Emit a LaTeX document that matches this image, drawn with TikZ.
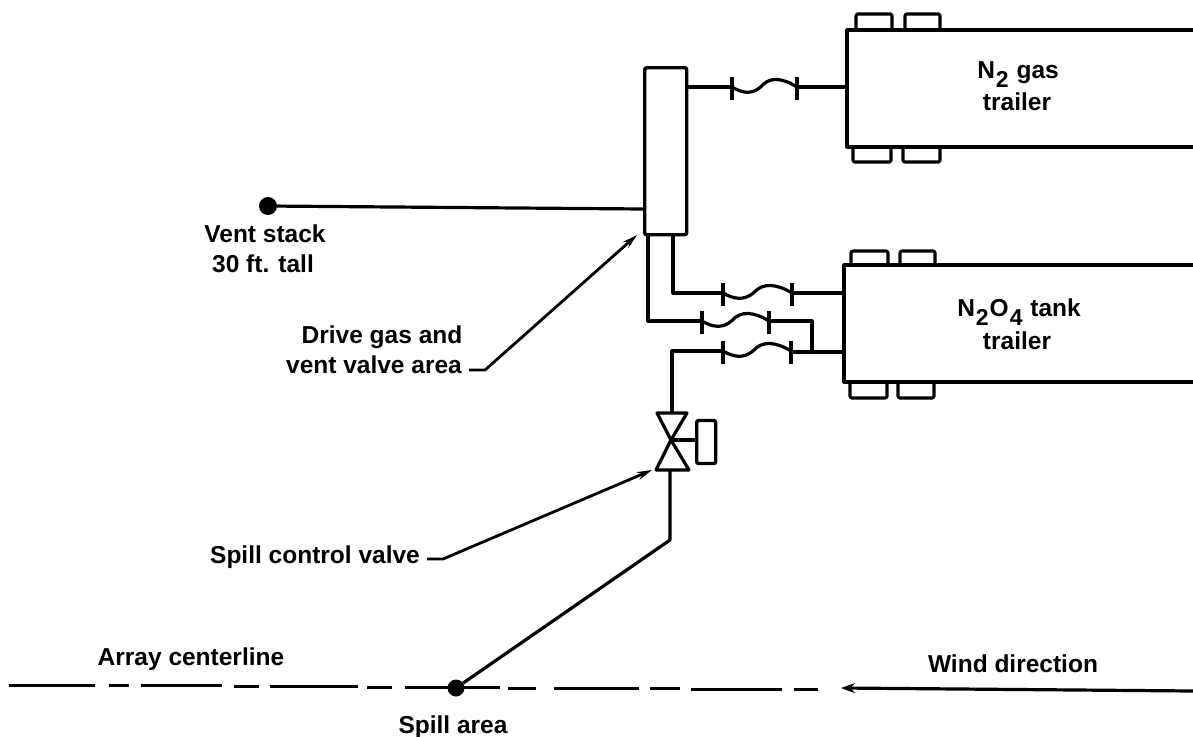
\documentclass[tikz,border=0pt]{standalone}
\usepackage{fontspec}
\setmainfont{Liberation Sans}
\usetikzlibrary{arrows.meta}
\newcommand{\lowsub}[1]{\raisebox{-9pt}{\kern1pt\fontsize{23}{26}\selectfont #1\kern1pt}}
\tikzset{
  x=1pt,y=-1pt,
  pipe/.style={line width=3.2pt,line join=round},
  lbl/.style={font=\fontsize{24.5}{28}\selectfont\bfseries,inner sep=0pt,anchor=base},
  unit/.style={draw,line width=3.4pt,inner sep=0pt,rounded corners=2pt},
  dot/.style={circle,fill=black,inner sep=0pt},
  leader/.style={line width=2.8pt,line join=round,-{Stealth[length=15pt,width=8pt]}},
  tick/.style={line width=3.2pt},
  dashline/.style={line width=3pt}
}
\newcommand{\flexhose}[3]{%
  \draw[tick] (#1,#3-10)--(#1,#3+13);
  \draw[tick] (#2,#3-10)--(#2,#3+13);
  \draw[pipe] (#1,#3) .. controls ({#1+(#2-#1)*0.15},#3+6) and ({#1+(#2-#1)*0.3},#3+8) .. ({#1+(#2-#1)*0.44},#3)
    .. controls ({#1+(#2-#1)*0.58},#3-11) and ({#1+(#2-#1)*0.78},#3-9) .. (#2,#3);
}
\begin{document}
\begin{tikzpicture}
\useasboundingbox (0,0) rectangle (1193,736);
% stack box
\node[unit,minimum width=42pt,minimum height=167pt,anchor=north west] (stack) at (643,66) {};
% trailers
\coordinate (t1a) at (1193,30); \coordinate (t1b) at (847,30);
\coordinate (t1c) at (847,147); \coordinate (t1d) at (1193,147);
\draw[pipe] (t1a)--(t1b)--(t1c)--(t1d);
\coordinate (t2a) at (1193,265); \coordinate (t2b) at (844,265);
\coordinate (t2c) at (844,382); \coordinate (t2d) at (1193,382);
\draw[pipe] (t2a)--(t2b)--(t2c)--(t2d);
% wheels
\draw[pipe,rounded corners=2pt] (856,30)--(856,14)--(892,14)--(892,30);
\draw[pipe,rounded corners=2pt] (905,30)--(905,14)--(940,14)--(940,30);
\draw[pipe,rounded corners=2pt] (853,147)--(853,162)--(891,162)--(891,147);
\draw[pipe,rounded corners=2pt] (903,147)--(903,162)--(940,162)--(940,147);
\draw[pipe,rounded corners=2pt] (851,265)--(851,251)--(888,251)--(888,265);
\draw[pipe,rounded corners=2pt] (900,265)--(900,251)--(935,251)--(935,265);
\draw[pipe,rounded corners=2pt] (850,382)--(850,398)--(887,398)--(887,382);
\draw[pipe,rounded corners=2pt] (898,382)--(898,398)--(934,398)--(934,382);
% N2 line
\draw[pipe] (stack.east|-0,87)--(732,87);
\flexhose{732}{797}{87}
\draw[pipe] (797,87)--(847,87);
% pipes
\draw[pipe] (673,233)--(673,293)--(723,293);
\flexhose{723}{792}{293}
\draw[pipe] (792,293)--(844,293);
\draw[pipe] (648,233)--(648,321)--(702,321);
\flexhose{702}{769}{321}
\draw[pipe] (769,321)--(812,321)--(812,352);
\draw[pipe] (672,413)--(672,351)--(723,351);
\flexhose{723}{791}{351}
\draw[pipe] (791,352)--(844,352);
% valve
\coordinate (vc) at (671,440);
\draw[pipe] (657,413)--(687,413)--(vc)--cycle;
\draw[pipe] (656,470)--(689,470)--(vc)--cycle;
\node[unit,minimum width=19pt,minimum height=43pt,anchor=west] (act) at (695,442) {};
\draw[tick] (vc)--(act.west|-vc);
% vent
\node[dot,minimum size=18pt] (vent) at (268,206) {};
\draw[pipe] (vent)--(stack.west|-0,209);
% spill
\node[dot,minimum size=17pt] (spill) at (456,688) {};
\coordinate (sb) at (670,540);
\draw[pipe] (670,470)--(sb)--(spill);
% centerline
\foreach \a/\b/\ya in {9/95/685,109/129/685.3,141/222/685.6,234/259/686,270/358/686.5,367/392/687,405/500/687.5,508/536/688,554/639/688.3,650/680/688.6,691/782/689,794/818/689.3}
  \draw[dashline] (\a,\ya)--(\b,\ya);
\coordinate (w1) at (1193,691); \coordinate (w2) at (841,688);
\draw[line width=3.2pt,-{Stealth[length=14pt,width=10pt]}] (w1)--(w2);
% leaders
\coordinate (l1a) at (469,370); \coordinate (l1b) at (485,370); \coordinate (l1c) at (637,235);
\draw[leader] (l1a)--(l1b)--(l1c);
\coordinate (l2a) at (427,559); \coordinate (l2b) at (443,559); \coordinate (l2c) at (652,470);
\draw[leader] (l2a)--(l2b)--(l2c);
% labels
\node[lbl] (t1) at (265,242) {Vent stack};
\node[lbl] (t2) at (263,272) {30 ft. tall};
\node[lbl] (t3) at (382,343) {Drive gas and};
\node[lbl] (t4) at (374,373) {vent valve area};
\node[lbl] (t5) at (315,563) {Spill control valve};
\node[lbl] (t6) at (191,665) {Array centerline};
\node[lbl] (t7) at (1013,672) {Wind direction};
\node[lbl] (t8) at (453,733) {Spill area};
\node[lbl] (t9) at (1018,78) {N\lowsub{2} gas};
\node[lbl] (t10) at (1017,110) {trailer};
\node[lbl] (t11) at (1019,316) {N\lowsub{2}O\lowsub{4} tank};
\node[lbl] (t12) at (1017,349) {trailer};
\end{tikzpicture}
\end{document}
